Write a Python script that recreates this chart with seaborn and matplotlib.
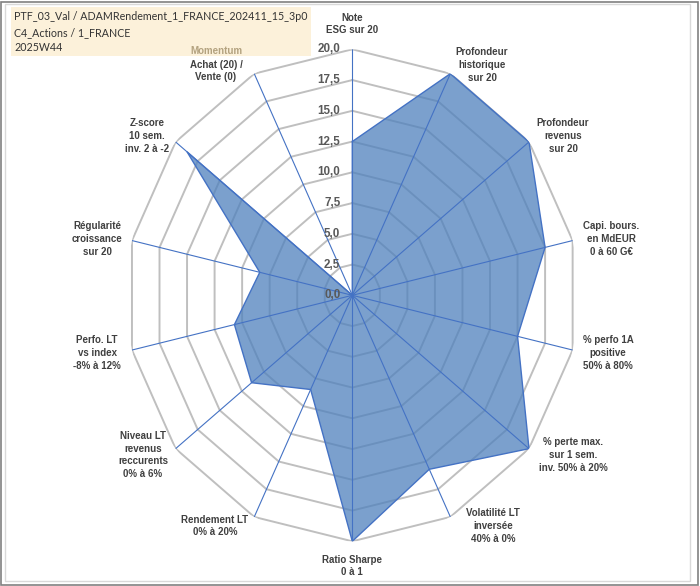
import numpy as np
import pandas as pd
import matplotlib
matplotlib.use("Agg")
import matplotlib.pyplot as plt
import matplotlib.transforms as mtransforms
from matplotlib.patches import Rectangle
import seaborn as sns

# ---------------- data ----------------
categories = [
    "Note\nESG sur 20",
    "Profondeur\nhistorique\nsur 20",
    "Profondeur\nrevenus\nsur 20",
    "Capi. bours.\nen MdEUR\n0 à 60 G€",
    "% perfo 1A\npositive\n50% à 80%",
    "% perte max.\nsur 1 sem.\ninv. 50% à 20%",
    "Volatilité LT\ninversée\n40% à 0%",
    "Ratio Sharpe\n0 à 1",
    "Rendement LT\n0% à 20%",
    "Niveau LT\nrevenus\nreccurents\n0% à 6%",
    "Perfo. LT\nvs index\n-8% à 12%",
    "Régularité\ncroissance\nsur 20",
    "Z-score\n10 sem.\ninv. 2 à -2",
    "Momentum\nAchat (20) /\nVente (0)",
]
values = [12.5, 20.0, 20.0, 17.5, 15.0, 20.0, 15.7, 20.0, 8.5, 11.4, 10.7, 8.4, 18.7, 0.0]
tick_values = [0.0, 2.5, 5.0, 7.5, 10.0, 12.5, 15.0, 17.5, 20.0]
tick_labels = ["0,0", "2,5", "5,0", "7,5", "10,0", "12,5", "15,0", "17,5", "20,0"]
title_lines = [
    "PTF_03_Val / ADAMRendement_1_FRANCE_202411_15_3p0",
    "C4_Actions / 1_FRANCE",
    "2025W44",
]

# ---------------- layout ----------------
W, H = 700, 586
sns.set_style("white")
plt.rcParams["font.family"] = ["Liberation Sans", "DejaVu Sans"]

fig = plt.figure(figsize=(W / 100, H / 100), dpi=100)
fig.patch.set_facecolor("white")

cx, cy = 352.3, 295.3      # centre in pixels (y down)
rx, ry = 226.0, 246.0      # radii in pixels
ax = fig.add_axes([(cx - rx) / W, (H - cy - ry) / H, 2 * rx / W, 2 * ry / H],
                  projection="polar")
ax.set_aspect("auto")
ax.set_theta_zero_location("N")
ax.set_theta_direction(-1)
ax.set_ylim(0, 20)
ax.grid(False)
ax.spines["polar"].set_visible(False)
ax.patch.set_alpha(0)

n = len(categories)
theta = np.arange(n) * 2 * np.pi / n
theta_c = np.append(theta, theta[0])

# polygonal rings
for lvl in tick_values[1:]:
    ax.plot(theta_c, [lvl] * (n + 1), color="#BFBFBF", lw=1.4, zorder=1)

# data polygon
vals_c = np.append(values, values[0])
ax.fill(theta_c, vals_c, color="#4F81BD", alpha=0.75, lw=0, zorder=2)
df = pd.DataFrame({"theta": theta_c, "value": vals_c})
sns.lineplot(data=df, x="theta", y="value", sort=False, ax=ax,
             color="#4472C4", lw=1.0, zorder=3, estimator=None)

# spokes
for t in theta:
    ax.plot([t, t], [0, 20], color="#4472C4", lw=0.8, zorder=4)

ax.set_xticks([])
ax.set_yticks([])
ax.set_xlabel("")
ax.set_ylabel("")
ax.set_ylim(0, 20)

# radial tick labels
off = mtransforms.offset_copy(ax.transData, fig=fig, x=-12, y=0, units="dots")
for v, lab in zip(tick_values, tick_labels):
    ax.text(0, v, lab, transform=off, ha="right", va="center",
            fontsize=8.4, fontweight="bold", color="#595959", zorder=5)

# category labels (pixel layout positions)
label_pos = [
    (352, 24), (482, 65), (563, 136), (611, 239), (608, 353), (573, 455),
    (493, 526), (352, 566), (215, 526), (143, 455), (97, 353), (97, 239),
    (147, 136), (216, 64),
]
for i, (lab, (px, py)) in enumerate(zip(categories, label_pos)):
    if i == n - 1:
        lines = lab.split("\n")
        fig.text(px / W, 1 - 51 / H, lines[0], ha="center", va="center",
                 fontsize=7, fontweight="bold", color="#B3A27F", zorder=6)
        fig.text(px / W, 1 - 71 / H, "\n".join(lines[1:]), ha="center",
                 va="center", fontsize=7, fontweight="bold", color="#404040",
                 linespacing=1.35)
    else:
        fig.text(px / W, 1 - py / H, lab, ha="center", va="center",
                 fontsize=7, fontweight="bold", color="#404040",
                 linespacing=1.35)

# title box
fig.patches.append(Rectangle((10.5 / W, 1 - 56 / H), 300 / W, 49 / H,
                             transform=fig.transFigure, facecolor="#FCEFD4",
                             edgecolor="none", zorder=5, alpha=0.85))
for k, line in enumerate(title_lines):
    fig.text(14 / W, 1 - (17 + 15.3 * k) / H, line, ha="left", va="center",
             fontsize=7.7, color="#333333", family=["Lato", "DejaVu Sans"],
             zorder=7)

# borders
fig.patches.append(Rectangle((5 / W, 5 / H), 685 / W, 577 / H,
                             transform=fig.transFigure, facecolor="none",
                             edgecolor="#D9D9D9", lw=1.0, zorder=0))
fig.patches.append(Rectangle((1 / W, 1 / H), 697 / W, 583 / H,
                             transform=fig.transFigure, facecolor="none",
                             edgecolor="#808080", lw=1.2, zorder=0))

fig.savefig("out.png", dpi=100, facecolor="white")
